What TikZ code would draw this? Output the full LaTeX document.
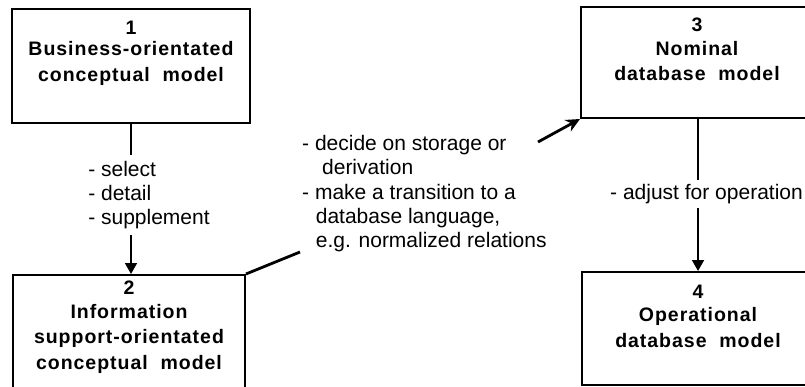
\documentclass[tikz,border=0pt]{standalone}
\usepackage{fontspec}
\setmainfont{Liberation Sans}
\newfontfamily\boxfont[LetterSpace=5]{Liberation Sans}
\usetikzlibrary{arrows.meta, positioning}

\begin{document}
\begin{tikzpicture}[
	x=1pt, y=-1pt,
	> = {Triangle[width=12pt,length=11pt]},
	box/.style = {draw, line width=2pt, rectangle, inner sep=0pt},
	boxtext/.style = {align=center, inner sep=0pt,
		font=\boxfont\bfseries\fontsize{19.5}{25.5}\selectfont},
	note/.style = {align=left, fill=white, inner sep=4pt,
		font=\fontsize{21}{24.3}\selectfont},
	arr/.style = {->, line width=1.8pt},
	]
	\useasboundingbox (0,0) rectangle (805,387);
	\clip (0,0) rectangle (805,387);
	% boxes
	\node[box, minimum width=238pt, minimum height=114pt] (b1) at (131,66) {};
	\node[box, minimum width=232pt, minimum height=117pt] (b2) at (129,333.5) {};
	\node[box, minimum width=234pt, minimum height=111pt] (b3) at (698,62.5) {};
	\node[box, minimum width=233pt, minimum height=113pt] (b4) at (698.5,328.5) {};
	\node[boxtext] (t1) at (131,53) {1\\[-4pt]Business-orientated\\conceptual\ \ model};
	\node[boxtext] (t2) at (129,327) {2\\[-2pt]Information\\support-orientated\\conceptual\ \ model};
	\node[boxtext] (t3) at (697,49.5) {3\\[-2pt]Nominal\\database\ \ model};
	\node[boxtext] (t4) at (698,316) {4\\[-2pt]Operational\\database\ \ model};
	% vertical steps
	\draw[arr] (b1.south) -- (b1.south |- b2.north);
	\node[note, inner ysep=6pt] (sel) at (149,195) {- select\\- detail\\- supplement};
	\draw[arr] (b3.south) -- (b3.south |- b4.north);
	\node[note, anchor=west] (adj) at (606,194) {- adjust for operation};
	% transition 2 -> 3
	\coordinate (m1) at (300,252);
	\coordinate (m2) at (538,142);
	\draw[line width=2.8pt] (b2.north east) -- (m1);
	\draw[line width=2.8pt, -{Stealth[width=13pt,length=14pt]}] (m2) -- (b3.south west);
	\node[note, fill=none, anchor=north west, inner sep=0pt] (dec) at (302,135)
		{- decide on storage or\\\hspace*{0.95em}derivation\\- make a transition to a\\\hspace*{0.65em}database language,\\\hspace*{0.65em}e.g. normalized relations};
\end{tikzpicture}
\end{document}
